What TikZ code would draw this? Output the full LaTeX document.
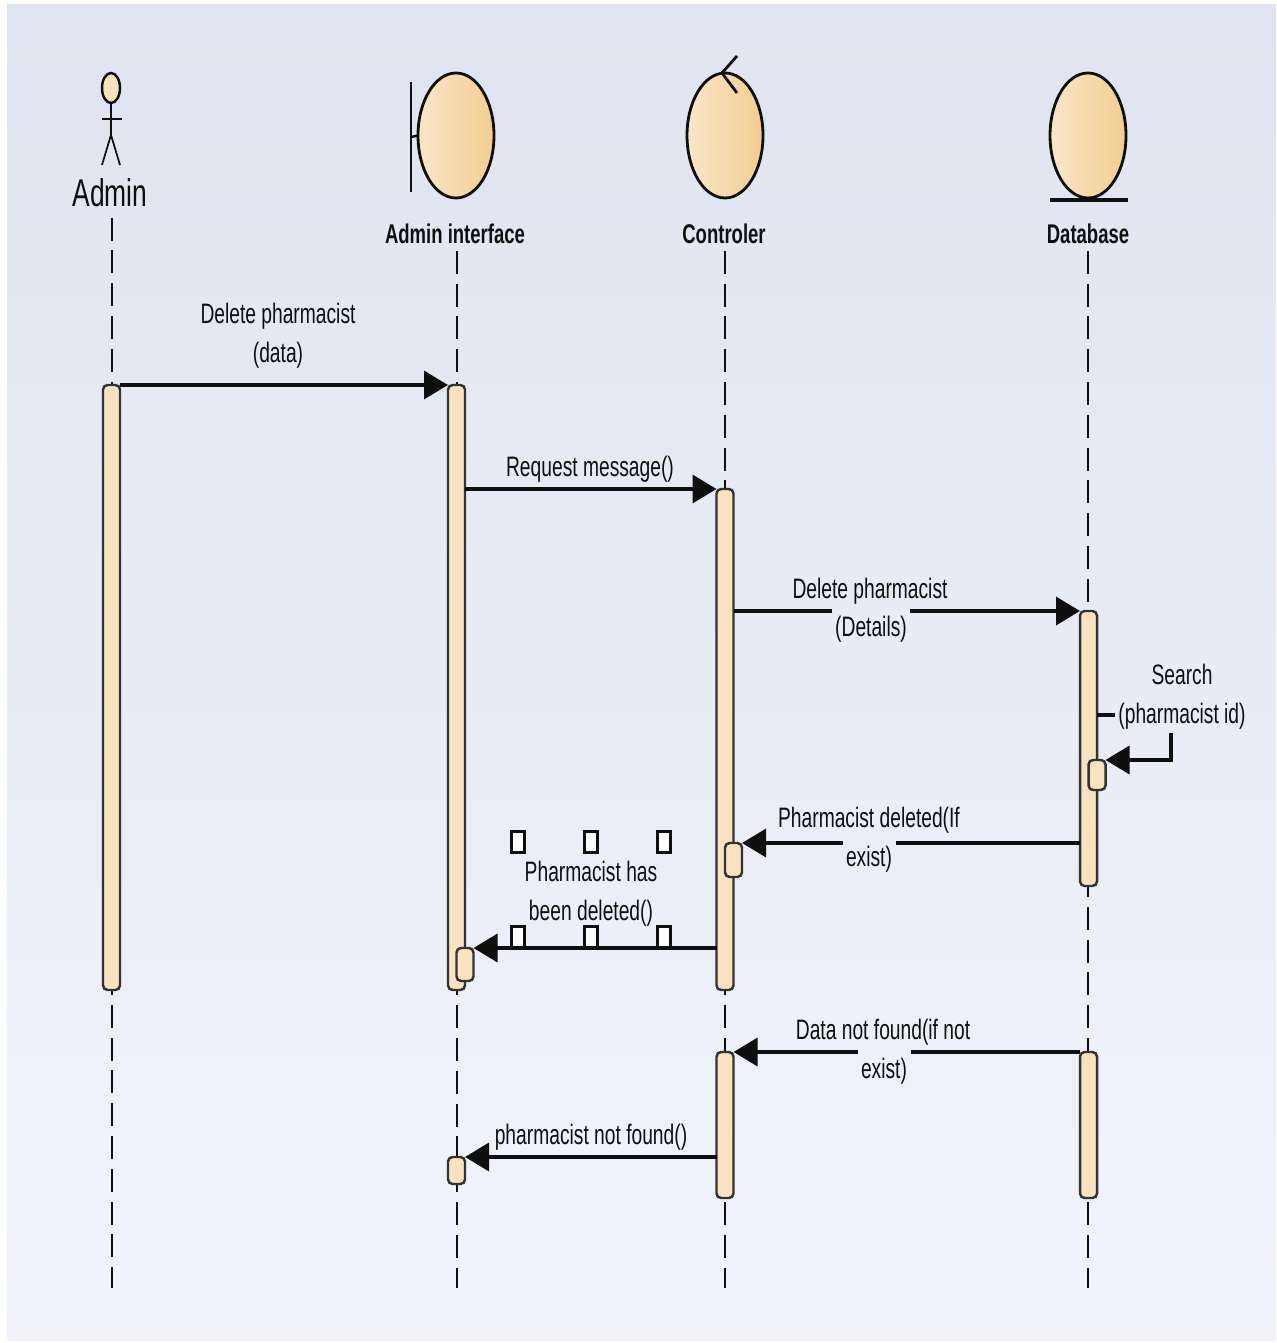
\documentclass[tikz,border=0pt]{standalone}
\usepackage{fontspec}
\setmainfont[FakeStretch=0.684]{Liberation Sans}
\usetikzlibrary{arrows.meta, shapes.geometric}
\definecolor{bgtop}{RGB}{223, 228, 240}
\definecolor{bgbot}{RGB}{242, 244, 250}
\definecolor{barfill}{RGB}{248, 226, 193}
\definecolor{headleft}{RGB}{250, 230, 200}
\definecolor{headright}{RGB}{242, 205, 145}
\definecolor{inkdark}{RGB}{15, 15, 15}

\begin{document}
\begin{tikzpicture}[
  head/.style={ellipse, draw=inkdark, line width=0.8pt, left color=headleft, right color=headright, minimum width=0.76cm, minimum height=1.25cm, inner sep=0pt, outer sep=0pt},
  headlabel/.style={font=\fontsize{7.7}{10}\selectfont\bfseries, text=inkdark, inner sep=0.6pt, text height=6.7pt, text depth=1.3pt},
  actorline/.style={line width=0.5pt, inkdark},
  lifeline/.style={line width=0.6pt, inkdark, dash pattern=on 0.23cm off 0.098cm},
  bar/.style={rectangle, rounded corners=1.3pt, draw=inkdark!85, fill=barfill, line width=0.7pt, minimum width=0.17cm, inner sep=0pt, outer sep=0pt},
  handle/.style={rectangle, draw=inkdark, fill=white, line width=0.7pt, minimum width=0.13cm, minimum height=0.21cm, inner sep=0pt},
  msg/.style={-{Triangle[length=2.4mm, width=2.8mm]}, line width=1pt, inkdark},
  lbl/.style={font=\fontsize{8}{10}\selectfont, text=inkdark, fill=bgbot!#1!bgtop, inner xsep=1pt, inner ysep=0pt, text height=6.7pt, text depth=1.3pt},
  lblcut/.style={lbl=#1, inner ysep=1.5pt}
]
  \useasboundingbox (0, 0) rectangle (12.76, -13.43);
  \shade[top color=bgtop, bottom color=bgbot] (0.07, -0.05) rectangle (12.76, -13.40);

  \node[ellipse, draw=inkdark, fill=barfill, line width=0.7pt, minimum width=0.18cm, minimum height=0.3cm, inner sep=0pt] (adminhead) at (1.11, -0.88) {};
  \coordinate (adminhip) at (1.11, -1.35);
  \coordinate (adminlhand) at (1.02, -1.19);
  \coordinate (adminrhand) at (1.22, -1.19);
  \coordinate (adminlfoot) at (1.02, -1.65);
  \coordinate (adminrfoot) at (1.20, -1.65);
  \draw[actorline] (adminhead) -- (adminhip);
  \draw[actorline] (adminlhand) -- (adminrhand);
  \draw[actorline] (adminlfoot) -- (adminhip) -- (adminrfoot);
  \node[font=\fontsize{11}{13}\selectfont, text=inkdark, inner sep=1pt, text height=10.3pt, text depth=1.9pt] (admin) at (1.10, -1.92) {Admin};

  \node[head] (iface) at (4.56, -1.355) {};
  \coordinate (ifacetop) at (4.11, -0.82);
  \coordinate (ifacebot) at (4.11, -1.92);
  \coordinate (ifacemid) at (4.11, -1.37);
  \draw[actorline, line width=0.7pt] (ifacetop) -- (ifacebot);
  \draw[actorline, line width=0.7pt] (ifacemid) -- (iface.west);
  \node[headlabel] (ifacelabel) at (4.55, -2.34) {Admin interface};

  \node[head] (ctrl) at (7.25, -1.355) {};
  \coordinate (ctrltip) at (7.37, -0.56);
  \coordinate (ctrlback) at (7.22, -0.73);
  \coordinate (ctrltail) at (7.37, -0.93);
  \draw[actorline, line width=0.8pt] (ctrltip) -- (ctrlback) -- (ctrltail);
  \node[headlabel] (ctrllabel) at (7.24, -2.34) {Controler};

  \node[head] (db) at (10.88, -1.355) {};
  \coordinate (dbleft) at (10.50, -2.00);
  \coordinate (dbright) at (11.28, -2.00);
  \draw[actorline, line width=0.9pt] (dbleft) -- (dbright);
  \node[headlabel] (dblabel) at (10.88, -2.34) {Database};

  \coordinate (adminend) at (1.12, -12.88);
  \coordinate (ifaceend) at (4.57, -12.88);
  \coordinate (ctrlend) at (7.25, -12.88);
  \coordinate (dbend) at (10.88, -12.88);
  \draw[lifeline] (admin.south -| adminend) -- (adminend);
  \draw[lifeline] (ifacelabel.south -| ifaceend) -- (ifaceend);
  \draw[lifeline] (ctrllabel.south -| ctrlend) -- (ctrlend);
  \draw[lifeline] (dblabel.south -| dbend) -- (dbend);

  \node[bar, minimum height=6.05cm] (adminbar) at (1.115, -6.875) {};
  \node[bar, minimum height=6.05cm] (ifacebar) at (4.565, -6.875) {};
  \node[bar, minimum height=5.01cm] (ctrlbar) at (7.25, -7.395) {};
  \node[bar, minimum height=2.75cm] (dbbar) at (10.885, -7.485) {};
  \node[bar, minimum height=0.30cm] (dbsmall) at (10.97, -7.75) {};
  \node[bar, minimum height=0.34cm] (ctrlsmall) at (7.335, -8.60) {};
  \node[bar, minimum height=0.33cm] (ifacesmall) at (4.65, -9.645) {};
  \node[bar, minimum height=1.46cm] (ctrllow) at (7.25, -11.25) {};
  \node[bar, minimum height=1.46cm] (dblow) at (10.885, -11.25) {};
  \node[bar, minimum height=0.27cm] (ifacelow) at (4.565, -11.705) {};

  \coordinate (selfcorner) at (11.71, -7.15);
  \draw[msg] (adminbar.north east) -- (ifacebar.north west);
  \draw[msg] (ctrlbar.north west -| ifacebar.east) -- (ctrlbar.north west);
  \draw[msg] (dbbar.north west -| ctrlbar.east) -- (dbbar.north west);
  \draw[msg] (selfcorner -| dbbar.east) -- (selfcorner) -- (selfcorner |- dbsmall.north east) -- (dbsmall.north east);
  \draw[msg] (ctrlsmall.north east -| dbbar.west) -- (ctrlsmall.north east);
  \draw[msg] (ifacesmall.north east -| ctrlbar.west) -- (ifacesmall.north east);
  \draw[msg] (dblow.north west) -- (ctrllow.north east);
  \draw[msg] (ifacelow.north east -| ctrllow.west) -- (ifacelow.north east);

  \node[lbl=23] (deleteone) at (2.78, -3.14) {Delete pharmacist};
  \node[lbl=26] (deletetwo) at (2.78, -3.53) {(data)};
  \node[lbl=35] (request) at (5.90, -4.67) {Request message()};
  \node[lbl=44] (detailsone) at (8.70, -5.89) {Delete pharmacist};
  \node[lblcut=47] (detailstwo) at (8.71, -6.27) {(Details)};
  \node[lbl=50] (searchone) at (11.82, -6.75) {Search};
  \node[lblcut=53] (searchtwo) at (11.82, -7.14) {(pharmacist id)};
  \node[lbl=61] (deletedone) at (8.69, -8.18) {Pharmacist deleted(If};
  \node[lblcut=64] (deletedtwo) at (8.69, -8.57) {exist)};
  \node[lbl=65] (hasbeenone) at (5.91, -8.72) {Pharmacist has};
  \node[lbl=68] (hasbeentwo) at (5.91, -9.11) {been deleted()};
  \node[lbl=77] (notfoundone) at (8.83, -10.30) {Data not found(if not};
  \node[lblcut=80] (notfoundtwo) at (8.84, -10.69) {exist)};
  \node[lbl=85] (missing) at (5.91, -11.35) {pharmacist not found()};

  \node[handle] (handlea) at (5.18, -8.42) {};
  \node[handle] (handleb) at (5.91, -8.42) {};
  \node[handle] (handlec) at (6.64, -8.42) {};
  \node[handle] (handled) at (5.18, -9.37) {};
  \node[handle] (handlee) at (5.91, -9.37) {};
  \node[handle] (handlef) at (6.64, -9.37) {};
\end{tikzpicture}
\end{document}
